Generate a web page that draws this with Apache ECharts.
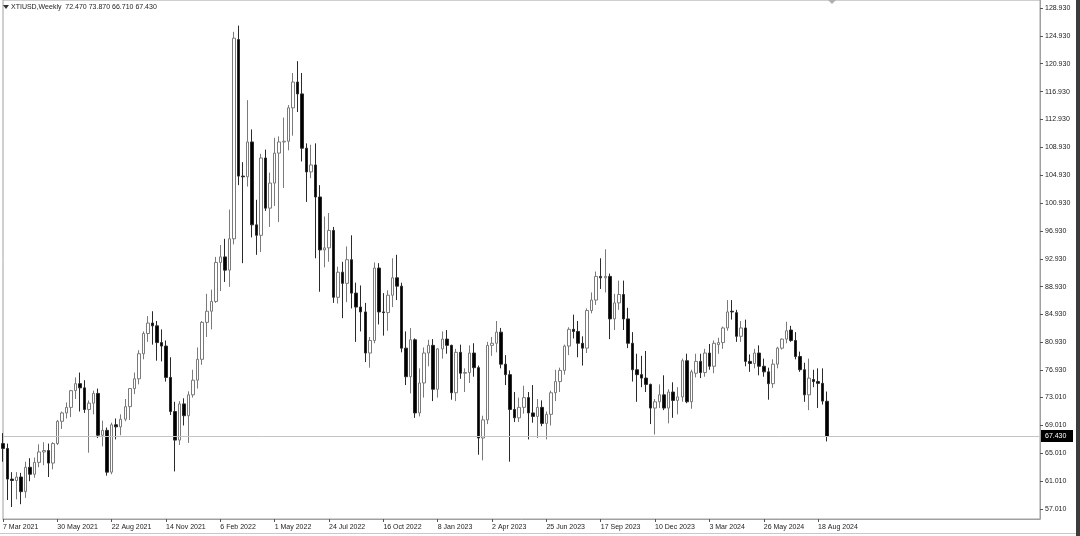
<!DOCTYPE html>
<html><head><meta charset="utf-8">
<script src="https://cdn.jsdelivr.net/npm/echarts@6/dist/echarts.min.js"></script>
<style>html,body{margin:0;padding:0;background:#fff;}#c{width:1080px;height:536px;}</style>
</head><body><div id="c"></div>
<script>
const symbolTitle = 'XTIUSD,Weekly';
const startDate = '2021-03-07';
const slotCount = 230;
const xTickLabels = ['7 Mar 2021','30 May 2021','22 Aug 2021','14 Nov 2021','6 Feb 2022','1 May 2022','24 Jul 2022','16 Oct 2022','8 Jan 2023','2 Apr 2023','25 Jun 2023','17 Sep 2023','10 Dec 2023','3 Mar 2024','26 May 2024','18 Aug 2024'];
const yTickValues = [57.01,61.01,65.01,69.01,73.01,76.93,80.93,84.93,88.93,92.93,96.93,100.93,104.93,108.93,112.93,116.93,120.93,124.93,128.93];

const open = [66.4,65.7,61.3,61.1,61.6,59.5,63.0,62.0,63.7,65.2,65.4,63.6,66.4,69.6,70.8,71.6,74.0,75.0,74.4,71.3,
72.2,73.6,67.6,68.3,62.3,69.1,68.8,69.9,71.7,74.3,75.7,79.3,82.2,83.7,83.3,80.9,80.4,75.9,71.0,66.9,
72.1,70.4,73.4,75.5,78.5,83.8,85.4,86.8,92.4,93.2,91.3,95.8,124.4,104.8,104.7,109.7,97.8,96.3,107.4,100.2,
103.8,108.1,109.7,109.8,114.6,118.3,116.6,108.8,105.4,106.4,101.8,94.2,94.5,97.0,87.4,91.0,89.4,92.8,88.0,86.0,
85.3,79.4,81.2,91.6,85.3,85.2,87.7,90.2,89.0,80.1,76.0,81.3,70.8,75.1,79.4,80.5,74.2,80.0,81.4,80.5,
73.7,79.5,76.5,76.6,79.4,77.3,67.2,69.8,80.5,80.8,82.4,77.8,76.3,71.3,70.1,71.6,73.0,70.8,70.3,71.6,
69.3,70.6,73.7,75.3,76.9,80.4,82.8,82.5,80.8,80.1,85.5,87.0,90.4,90.2,90.4,84.3,86.6,87.8,84.3,80.8,
77.0,76.3,75.8,74.9,71.5,72.4,73.4,71.5,73.8,72.6,73.1,78.3,72.4,76.5,78.2,76.6,79.4,77.5,80.6,80.9,
83.0,85.4,85.2,81.8,83.0,78.2,77.9,79.4,77.5,76.7,75.0,77.8,80.1,81.4,82.7,81.2,78.9,77.0,73.4,75.6,
75.3,75.05,72.47];
const high = [67.9,66.4,62.3,62.3,62.2,63.8,64.3,64.4,66.3,66.6,66.4,66.6,69.8,71.0,72.3,74.1,75.9,76.6,75.5,72.6,
74.0,74.3,69.7,68.7,69.4,70.0,70.6,72.8,74.3,76.6,79.8,82.5,84.7,85.4,84.0,82.8,81.2,78.8,72.4,72.5,
72.9,73.9,77.0,80.2,84.0,87.9,88.5,93.2,94.9,95.8,100.0,125.5,126.4,106.8,115.7,111.5,101.4,108.0,108.6,105.3,
110.3,110.5,113.2,115.0,119.6,121.3,119.6,109.5,109.3,109.5,103.5,99.0,99.5,97.5,91.8,92.5,94.7,96.3,89.5,89.1,
86.6,81.7,92.4,92.3,88.0,88.4,93.0,93.5,89.5,82.5,83.0,81.5,77.2,80.2,81.3,81.4,80.1,82.5,82.7,80.6,
80.0,80.6,77.2,80.5,80.8,77.6,70.4,81.0,81.7,84.0,83.0,79.1,76.9,73.8,73.0,74.7,73.8,74.8,72.8,72.6,
71.0,74.0,77.0,77.3,80.6,83.1,84.9,84.0,81.8,85.8,88.1,91.1,93.0,94.3,90.8,87.9,89.8,89.8,85.9,82.4,
79.3,79.0,79.7,75.0,72.8,74.9,76.2,74.2,75.2,74.5,78.6,79.3,77.0,79.3,79.3,80.0,80.7,81.2,81.6,83.2,
87.0,87.0,85.6,84.0,84.2,79.2,80.0,80.5,78.6,77.3,78.5,80.3,81.5,83.9,83.3,82.4,79.6,78.0,78.6,77.0,
77.2,77.2,73.87];
const low = [63.8,58.3,57.3,58.4,57.7,58.6,61.0,61.5,63.0,63.3,61.6,62.7,66.2,68.5,70.0,70.2,72.8,71.0,70.8,65.1,
70.6,67.2,66.0,61.8,62.0,67.0,67.6,69.6,69.8,73.5,74.9,78.5,81.0,80.6,78.3,78.2,75.3,70.5,62.4,66.2,
69.0,66.5,73.0,74.3,77.7,81.7,82.8,86.6,88.3,89.6,88.9,95.0,103.5,92.3,103.3,96.0,93.5,93.9,99.8,97.5,
100.5,98.2,103.1,108.5,110.6,114.0,106.9,101.1,104.5,93.0,88.2,91.7,92.5,86.6,86.5,84.4,86.7,85.8,81.0,82.5,
78.1,77.3,80.8,83.5,81.9,82.6,86.0,87.0,79.5,74.8,73.6,70.1,70.3,73.0,77.5,72.5,73.0,78.6,79.3,72.7,
72.5,75.7,73.8,75.1,76.0,64.8,64.0,69.2,79.0,79.5,77.2,74.8,63.8,69.5,69.5,70.7,67.0,69.4,67.2,68.9,
67.0,69.0,72.5,73.8,76.3,79.1,81.5,78.8,77.6,79.4,85.1,86.3,88.6,88.1,81.4,82.7,85.6,82.7,80.1,75.3,
72.4,74.5,73.8,69.2,67.7,71.5,71.2,69.3,70.1,70.6,72.4,72.2,71.4,75.9,75.8,76.0,77.0,76.5,79.3,80.0,
82.6,84.2,81.0,81.0,77.5,76.7,77.2,76.2,76.0,72.7,74.4,77.2,79.9,80.8,81.0,78.5,76.7,72.4,71.2,74.5,
71.5,72.0,66.71];
const close = [65.7,61.3,61.1,61.6,59.5,63.0,62.0,63.7,65.2,65.4,63.6,66.4,69.6,70.8,71.6,74.0,75.0,74.4,71.3,72.2,
73.6,67.6,68.3,62.3,69.1,68.8,69.9,71.7,74.3,75.7,79.3,82.2,83.7,83.3,80.9,80.4,75.9,71.0,66.9,72.1,
70.4,73.4,75.5,78.5,83.8,85.4,86.8,92.4,93.2,91.3,95.8,124.6,104.8,104.7,109.7,97.8,96.3,107.4,100.2,103.8,
108.1,109.7,109.8,114.6,118.3,116.6,108.8,105.4,106.4,101.8,94.2,94.5,97.0,87.4,91.0,89.4,92.8,88.0,86.0,85.3,
79.4,81.2,91.6,85.3,85.2,87.7,90.2,89.0,80.1,76.0,81.3,70.8,75.1,79.4,80.5,74.2,80.0,81.4,80.5,73.7,
79.5,76.5,76.6,79.4,77.3,67.2,69.8,80.5,80.8,82.4,77.8,76.3,71.3,70.1,71.6,73.0,70.8,70.3,71.6,69.3,
70.6,73.7,75.3,76.9,80.4,82.8,82.5,80.8,80.1,85.5,87.0,90.4,90.2,90.4,84.3,86.6,87.8,84.3,80.8,77.0,
76.3,75.8,74.9,71.5,72.4,73.4,71.5,73.8,72.6,73.1,78.3,72.4,76.7,78.2,76.6,79.4,77.5,80.8,80.9,83.0,
85.3,85.3,81.8,83.0,78.2,77.9,79.4,77.5,76.7,75.0,77.8,80.1,81.4,82.6,81.2,78.9,77.0,73.4,75.8,75.3,
75.05,72.5,67.43];

const MON = ['Jan','Feb','Mar','Apr','May','Jun','Jul','Aug','Sep','Oct','Nov','Dec'];
const t0 = new Date(startDate + 'T00:00:00Z').getTime();
const categories = [];
for (let i = 0; i < slotCount; i++) {
  const d = new Date(t0 + i * 7 * 86400000);
  categories.push(d.getUTCDate() + ' ' + MON[d.getUTCMonth()] + ' ' + d.getUTCFullYear());
}
const candles = open.map((o, i) => [o, close[i], low[i], high[i]]);
const last = open.length - 1;
const fmt = v => v.toFixed(3);
const FONT = 'Liberation Sans';
const FS = 7;

const chart = echarts.init(document.getElementById('c'), null, {renderer: 'canvas'});
const showX = idx => idx % 12 === 0 && idx / 12 < xTickLabels.length;
chart.setOption({
  animation: false,
  backgroundColor: '#ffffff',
  grid: {left: 0, top: 0, right: 40, bottom: 17, show: true, borderColor: '#a0a0a0', borderWidth: 1},
  xAxis: {
    type: 'category', data: categories, boundaryGap: false,
    axisLine: {show: true, lineStyle: {color: '#a0a0a0'}},
    axisTick: {show: true, interval: showX, length: 3, inside: false, lineStyle: {color: '#555'}},
    axisLabel: {interval: showX, formatter: (v, idx) => showX(idx) ? xTickLabels[idx / 12] : '',
      align: 'left', margin: 5, fontFamily: FONT, fontSize: FS, color: '#222'},
    splitLine: {show: false}
  },
  yAxis: {
    type: 'value', position: 'right', min: 55.574, max: 130.08, scale: true,
    axisLine: {show: true, lineStyle: {color: '#a0a0a0'}},
    axisTick: {show: true, customValues: yTickValues, length: 3, lineStyle: {color: '#555'}},
    axisLabel: {customValues: yTickValues, formatter: v => fmt(v), margin: 5,
      fontFamily: FONT, fontSize: FS, color: '#222'},
    splitLine: {show: false}
  },
  series: [{
    type: 'candlestick', data: candles, barWidth: 3,
    itemStyle: {color: '#ffffff', color0: '#000000', borderColor: '#7a7a7a', borderColor0: '#2a2a2a', borderWidth: 1},
    markLine: {silent: true, symbol: 'none', label: {show: false},
      lineStyle: {color: '#c4c4c4', width: 1, type: 'solid'},
      data: [{yAxis: close[last]}]}
  }]
});

const py = chart.convertToPixel({yAxisIndex: 0}, close[last]);
chart.setOption({
  graphic: [
    {type: 'polygon', shape: {points: [[3, 5], [9, 5], [6, 9]]}, style: {fill: '#333'}},
    {type: 'text', x: 11, y: 7, style: {text: symbolTitle + '  ' + [open[last], high[last], low[last], close[last]].map(fmt).join(' '),
      font: FS + 'px "Liberation Sans"', fill: '#222', verticalAlign: 'middle'}},
    {type: 'polygon', shape: {points: [[828, 0], [836, 0], [832, 4]]}, style: {fill: '#b0b0b0'}},
    {type: 'rect', shape: {x: 1041, y: Math.round(py) - 6, width: 32, height: 12}, style: {fill: '#000'}},
    {type: 'text', x: 1045, y: Math.round(py), style: {text: fmt(close[last]), font: FS + 'px "Liberation Sans"', fill: '#fff', verticalAlign: 'middle'}},
    {type: 'rect', shape: {x: 1076, y: 0, width: 4, height: 536}, style: {fill: '#3c3c3c'}},
    {type: 'line', shape: {x1: 0, y1: 533.5, x2: 1076, y2: 533.5}, style: {stroke: '#c8c8c8', lineWidth: 1}}
  ]
});
</script></body></html>
